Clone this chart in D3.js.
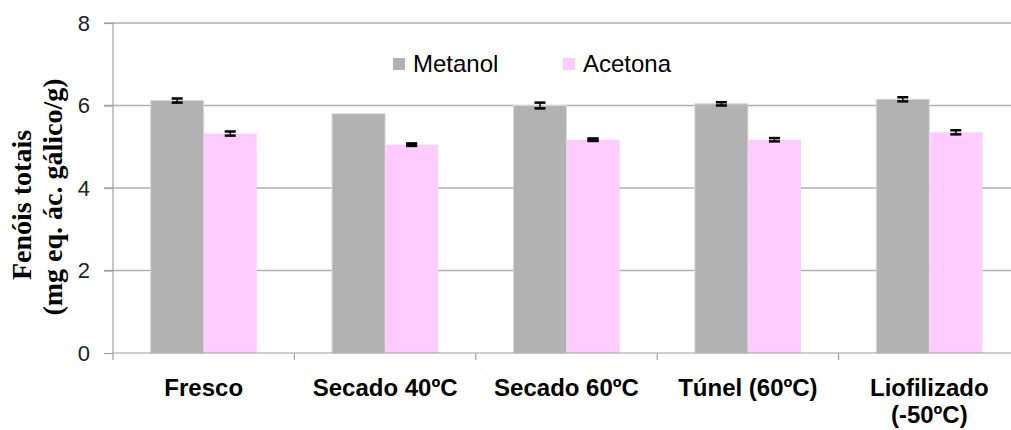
<!DOCTYPE html>
<html>
<head>
<meta charset="utf-8">
<script src="https://cdn.jsdelivr.net/npm/d3@7"></script>
<style>
html,body{margin:0;padding:0;background:#fff;}
svg{display:block;}
</style>
</head>
<body>
<svg id="chart" width="1011" height="430"></svg>
<script>
const categories = [["Fresco"], ["Secado 40ºC"], ["Secado 60ºC"], ["Túnel (60ºC)"], ["Liofilizado", "(-50ºC)"]];
const seriesNames = ["Metanol", "Acetona"];
const metanol = [6.12, 5.80, 6.00, 6.04, 6.15];
const acetona = [5.32, 5.05, 5.17, 5.17, 5.35];
const metanolErr = [0.05, 0, 0.07, 0.04, 0.05];
const acetonaErr = [0.05, 0.03, 0.03, 0.04, 0.05];
const yTicks = [0, 2, 4, 6, 8];
const yLabel = ["Fenóis totais", "(mg eq. ác. gálico/g)"];
const colors = ["#b2b2b2", "#ffccff"];

const svg = d3.select("#chart");
const mLeft = 113, mRight = 1020, mTop = 23, mBottom = 353;

const x0 = d3.scaleBand().domain(d3.range(categories.length)).range([mLeft, mRight]).paddingInner(0).paddingOuter(0);
const x1 = d3.scaleBand().domain(seriesNames).range([0, x0.bandwidth()]).paddingInner(0).paddingOuter(0.71);
const y = d3.scaleLinear().domain([0, 8]).range([mBottom, mTop]);

// gridlines
svg.append("g").selectAll("line").data(yTicks.filter(d => d > 0)).join("line")
  .attr("x1", mLeft - 9).attr("x2", 1011)
  .attr("y1", d => y(d)).attr("y2", d => y(d))
  .attr("stroke", "#b0b0b0").attr("stroke-width", 1.5);

// y axis
const yAxis = d3.axisLeft(y).tickValues(yTicks).tickSize(9).tickPadding(14);
const gy = svg.append("g").attr("transform", `translate(${mLeft},0)`).call(yAxis);
gy.select(".domain").remove();
gy.selectAll(".tick line").attr("stroke", "#a0a0a0").attr("stroke-width", 1.2);
gy.selectAll(".tick text").attr("font-family", "Liberation Sans, Arial, sans-serif").attr("font-size", 22).attr("fill", "#222");
svg.append("line").attr("x1", mLeft).attr("x2", mLeft).attr("y1", mTop).attr("y2", mBottom + 7)
  .attr("stroke", "#a0a0a0").attr("stroke-width", 1.2);

// bars
const data = categories.map((c, i) => ({i, vals: [
  {s: "Metanol", v: metanol[i], e: metanolErr[i], c: colors[0]},
  {s: "Acetona", v: acetona[i], e: acetonaErr[i], c: colors[1]}]}));

const groups = svg.append("g").selectAll("g").data(data).join("g")
  .attr("transform", d => `translate(${x0(d.i)},0)`);
groups.selectAll("rect").data(d => d.vals).join("rect")
  .attr("x", d => x1(d.s)).attr("width", x1.bandwidth())
  .attr("y", d => y(d.v)).attr("height", d => y(0) - y(d.v))
  .attr("fill", d => d.c)
  .attr("stroke", d => d.s === "Metanol" ? "#d8d8d8" : "none").attr("stroke-width", 1);

// error bars
const eb = groups.selectAll("g.err").data(d => d.vals.filter(v => v.e > 0)).join("g").attr("class", "err");
eb.append("line")
  .attr("x1", d => x1(d.s) + x1.bandwidth() / 2).attr("x2", d => x1(d.s) + x1.bandwidth() / 2)
  .attr("y1", d => y(d.v + d.e)).attr("y2", d => y(d.v - d.e))
  .attr("stroke", "#000").attr("stroke-width", 1.5);
eb.selectAll("line.cap").data(d => [{d, v: d.v + d.e}, {d, v: d.v - d.e}]).join("line").attr("class", "cap")
  .attr("x1", o => x1(o.d.s) + x1.bandwidth() / 2 - 5.5).attr("x2", o => x1(o.d.s) + x1.bandwidth() / 2 + 5.5)
  .attr("y1", o => y(o.v)).attr("y2", o => y(o.v))
  .attr("stroke", "#000").attr("stroke-width", 2.5);
groups.selectAll("line.flat").data(d => d.vals.filter(v => v.e > 0 && v.e < 0.035)).join("line").attr("class", "flat")
  .attr("x1", d => x1(d.s) + x1.bandwidth() / 2 - 5.5).attr("x2", d => x1(d.s) + x1.bandwidth() / 2 + 5.5)
  .attr("y1", d => y(d.v)).attr("y2", d => y(d.v))
  .attr("stroke", "#000").attr("stroke-width", 4);

// x axis
svg.append("line").attr("x1", mLeft).attr("x2", 1011).attr("y1", mBottom).attr("y2", mBottom)
  .attr("stroke", "#a0a0a0").attr("stroke-width", 1.2);
svg.append("g").selectAll("line").data(d3.range(1, categories.length)).join("line")
  .attr("x1", i => x0(i)).attr("x2", i => x0(i)).attr("y1", mBottom).attr("y2", mBottom + 7)
  .attr("stroke", "#a0a0a0").attr("stroke-width", 1.2);

const xl = svg.append("g").selectAll("text").data(data).join("text")
  .attr("y", 396)
  .attr("text-anchor", "middle")
  .attr("font-family", "Liberation Sans, Arial, sans-serif").attr("font-weight", "bold").attr("font-size", 24).attr("fill", "#000");
xl.selectAll("tspan").data(d => categories[d.i].map((t, k) => ({t, k, x: x0(d.i) + x0.bandwidth() / 2}))).join("tspan")
  .attr("x", o => o.x).attr("dy", o => o.k === 0 ? 0 : 27).text(o => o.t);

// y label (two lines, rotated)
const ylPos = [{cx: 31, cy: 205}, {cx: 62, cy: 197}];
svg.append("g").selectAll("text").data(yLabel).join("text")
  .attr("transform", (d, k) => `translate(${ylPos[k].cx},${ylPos[k].cy}) rotate(-90)`)
  .attr("text-anchor", "middle")
  .attr("font-family", "Liberation Serif, 'Times New Roman', serif").attr("font-weight", "bold").attr("font-size", 28).attr("fill", "#000")
  .text(d => d);

// legend
const lg = svg.append("g").selectAll("g").data(seriesNames).join("g")
  .attr("transform", (d, k) => `translate(${393 + k * 170},58)`);
lg.append("rect").attr("width", 12).attr("height", 12).attr("fill", (d, k) => colors[k]);
lg.append("text").attr("x", 20).attr("y", 14).text(d => d)
  .attr("font-family", "Liberation Sans, Arial, sans-serif").attr("font-size", 24).attr("fill", "#000");
</script>
</body>
</html>
